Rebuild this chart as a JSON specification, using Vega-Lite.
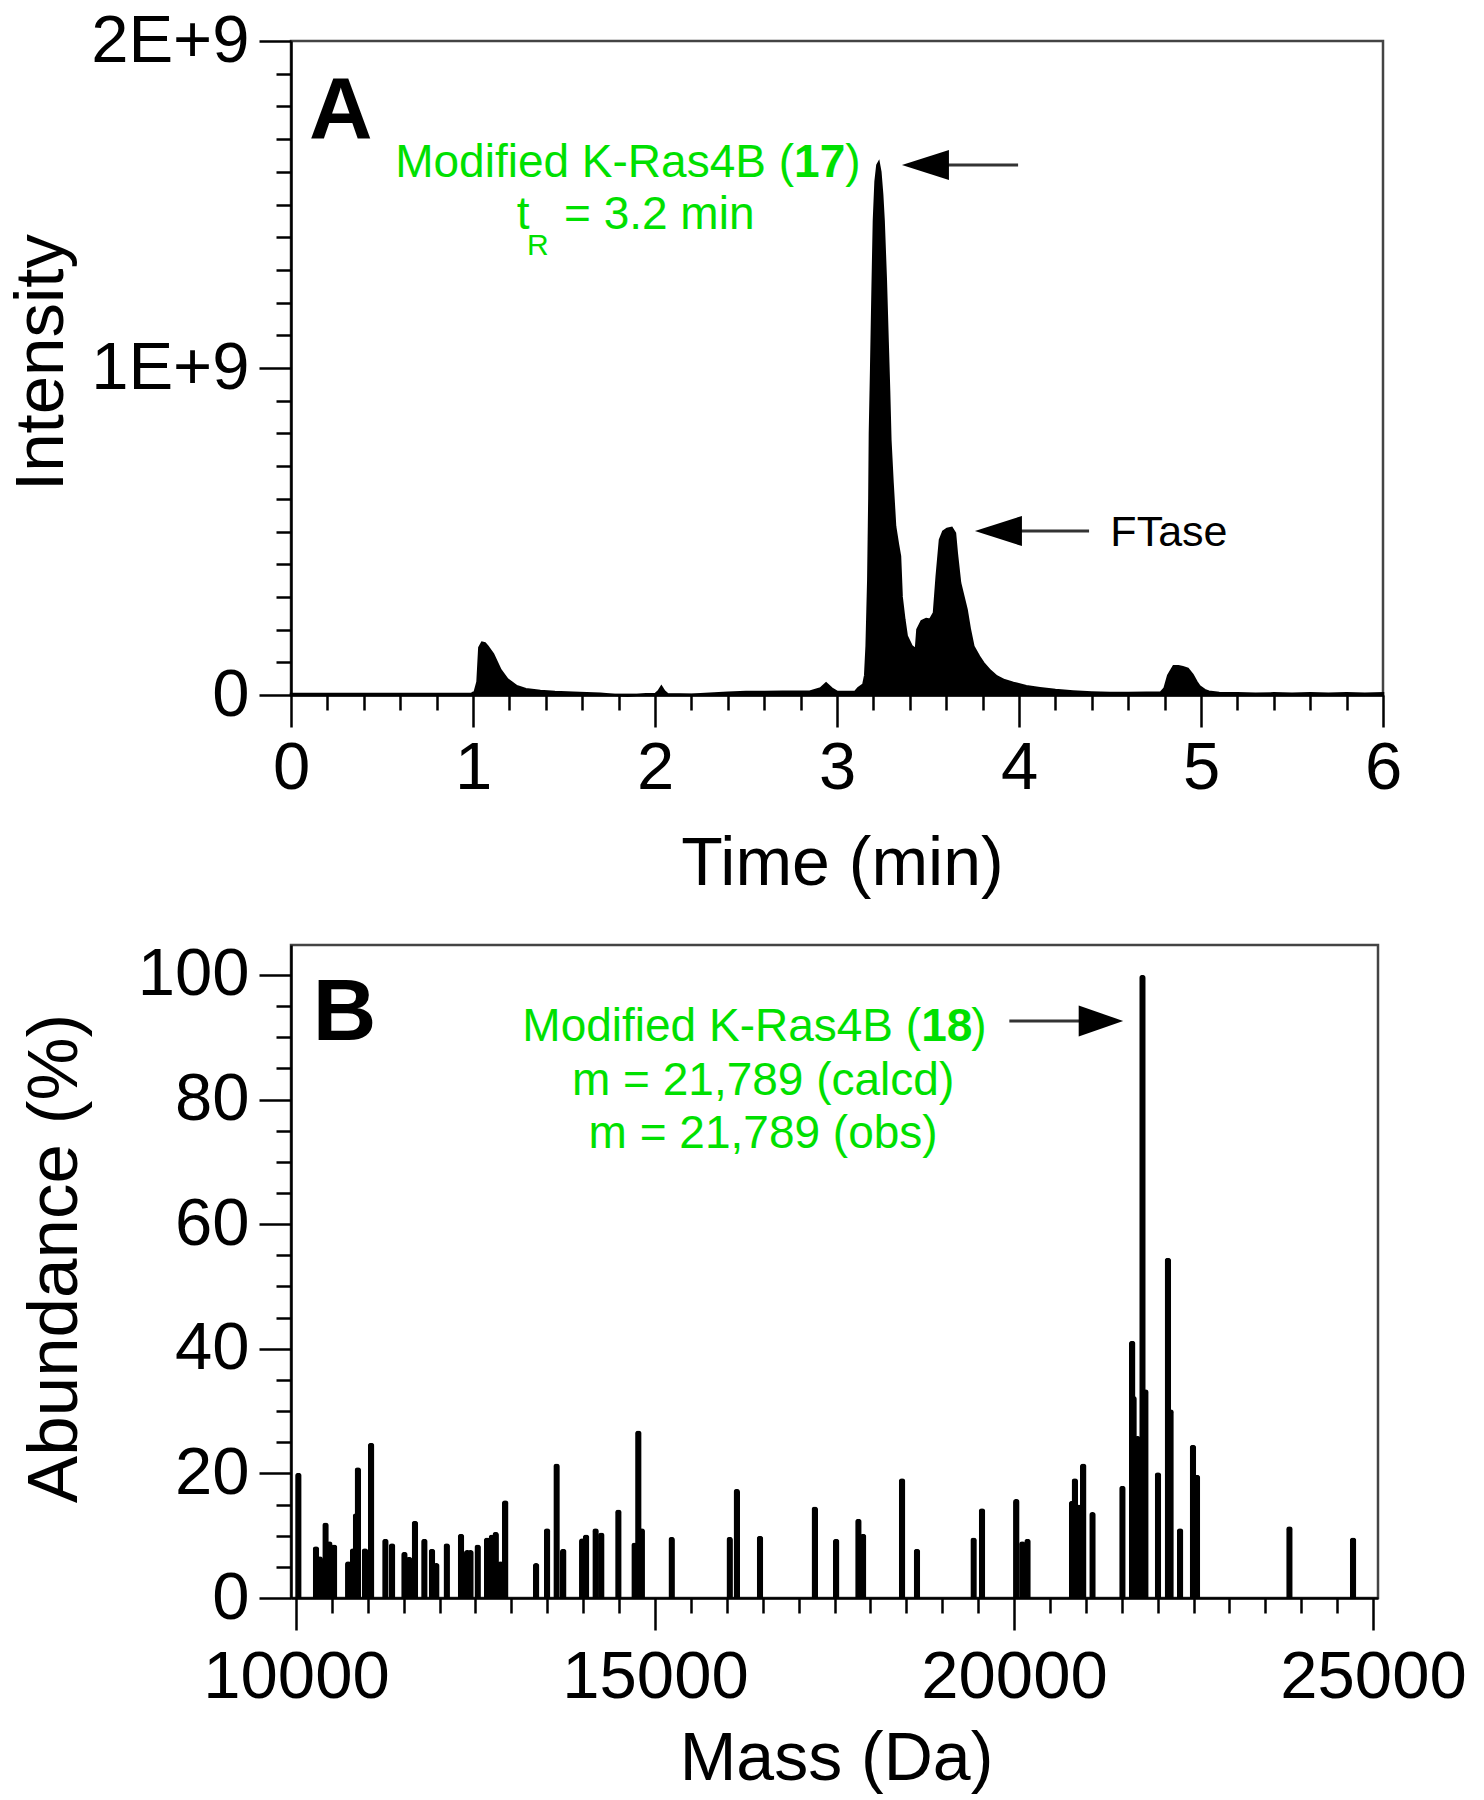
{
  "$schema": "https://vega.github.io/schema/vega-lite/v6.json",
  "background": "white",
  "padding": {"left": 5, "top": 5, "right": 5, "bottom": 5},
  "bounds": "flush",
  "spacing": 250,
  "config": {
    "font": "Liberation Sans",
    "view": {"stroke": "#444444", "strokeWidth": 2.5},
    "axis": {
      "grid": false,
      "domainColor": "black",
      "domainWidth": 2.5,
      "tickColor": "black",
      "tickWidth": 2.5,
      "tickCount": 200,
      "labelFont": "Liberation Sans",
      "labelFontSize": 67,
      "labelColor": "black",
      "labelFlush": false,
      "labelOverlap": false,
      "labelBound": false,
      "labelLimit": 600,
      "titleFont": "Liberation Sans",
      "titleFontWeight": "normal",
      "titleColor": "black",
      "titleBaseline": "alphabetic",
      "titleLimit": 1200
    }
  },
  "datasets": {
    "chrom": [
      {"t": 0.0, "I": 3e6}, {"t": 0.5, "I": 3e6}, {"t": 0.99, "I": 3e6}, {"t": 1.01, "I": 1e7},
      {"t": 1.025, "I": 4e7}, {"t": 1.035, "I": 1.45e8}, {"t": 1.05, "I": 1.6e8}, {"t": 1.065, "I": 1.58e8},
      {"t": 1.08, "I": 1.48e8}, {"t": 1.11, "I": 1.25e8}, {"t": 1.15, "I": 7.7e7}, {"t": 1.19, "I": 4.7e7},
      {"t": 1.24, "I": 2.7e7}, {"t": 1.29, "I": 1.8e7}, {"t": 1.37, "I": 1.2e7}, {"t": 1.45, "I": 9e6},
      {"t": 1.55, "I": 7e6}, {"t": 1.7, "I": 4e6}, {"t": 1.78, "I": 0}, {"t": 1.85, "I": -2e6},
      {"t": 1.95, "I": 2e6}, {"t": 2.0, "I": 2e6}, {"t": 2.02, "I": 1.2e7}, {"t": 2.035, "I": 2.5e7},
      {"t": 2.05, "I": 1.2e7}, {"t": 2.07, "I": 2e6}, {"t": 2.2, "I": 1e6}, {"t": 2.3, "I": 4e6},
      {"t": 2.4, "I": 7e6}, {"t": 2.5, "I": 9e6}, {"t": 2.6, "I": 9e6}, {"t": 2.7, "I": 1e7},
      {"t": 2.85, "I": 1e7}, {"t": 2.91, "I": 2e7}, {"t": 2.94, "I": 3.5e7}, {"t": 2.97, "I": 2e7},
      {"t": 3.0, "I": 1e7}, {"t": 3.05, "I": 9e6}, {"t": 3.1, "I": 1e7}, {"t": 3.117, "I": 2.1e7},
      {"t": 3.145, "I": 3.2e7}, {"t": 3.155, "I": 6e7}, {"t": 3.163, "I": 1.5e8}, {"t": 3.172, "I": 3.5e8},
      {"t": 3.178, "I": 6e8}, {"t": 3.181, "I": 8e8}, {"t": 3.188, "I": 1.0e9}, {"t": 3.196, "I": 1.25e9},
      {"t": 3.203, "I": 1.45e9}, {"t": 3.212, "I": 1.57e9}, {"t": 3.222, "I": 1.62e9}, {"t": 3.229, "I": 1.627e9},
      {"t": 3.238, "I": 1.6e9}, {"t": 3.248, "I": 1.53e9}, {"t": 3.256, "I": 1.45e9}, {"t": 3.268, "I": 1.27e9},
      {"t": 3.278, "I": 1.08e9}, {"t": 3.286, "I": 9.3e8}, {"t": 3.293, "I": 7.8e8}, {"t": 3.305, "I": 6.5e8},
      {"t": 3.319, "I": 5.16e8}, {"t": 3.335, "I": 4.6e8}, {"t": 3.346, "I": 4.25e8}, {"t": 3.355, "I": 3.0e8},
      {"t": 3.37, "I": 2.3e8}, {"t": 3.383, "I": 1.8e8}, {"t": 3.41, "I": 1.49e8}, {"t": 3.434, "I": 1.39e8},
      {"t": 3.442, "I": 2.0e8}, {"t": 3.465, "I": 2.26e8}, {"t": 3.49, "I": 2.32e8}, {"t": 3.511, "I": 2.3e8},
      {"t": 3.533, "I": 2.51e8}, {"t": 3.548, "I": 3.63e8}, {"t": 3.566, "I": 4.75e8}, {"t": 3.584, "I": 5.0e8},
      {"t": 3.605, "I": 5.08e8}, {"t": 3.63, "I": 5.11e8}, {"t": 3.648, "I": 4.95e8}, {"t": 3.658, "I": 4.34e8},
      {"t": 3.676, "I": 3.43e8}, {"t": 3.712, "I": 2.61e8}, {"t": 3.73, "I": 2.0e8}, {"t": 3.749, "I": 1.49e8},
      {"t": 3.78, "I": 1.18e8}, {"t": 3.804, "I": 9.8e7}, {"t": 3.84, "I": 7.5e7}, {"t": 3.877, "I": 5.7e7},
      {"t": 3.92, "I": 4.5e7}, {"t": 3.969, "I": 3.7e7}, {"t": 4.04, "I": 2.7e7}, {"t": 4.115, "I": 2.1e7},
      {"t": 4.2, "I": 1.5e7}, {"t": 4.297, "I": 1.1e7}, {"t": 4.4, "I": 8e6}, {"t": 4.5, "I": 6e6},
      {"t": 4.6, "I": 6e6}, {"t": 4.7, "I": 7e6}, {"t": 4.78, "I": 8e6}, {"t": 4.8, "I": 2e7},
      {"t": 4.82, "I": 6e7}, {"t": 4.85, "I": 8.8e7}, {"t": 4.876, "I": 8.8e7}, {"t": 4.9, "I": 8.5e7},
      {"t": 4.927, "I": 8e7}, {"t": 4.953, "I": 6.2e7}, {"t": 4.975, "I": 4e7}, {"t": 4.991, "I": 2.7e7},
      {"t": 5.02, "I": 1.5e7}, {"t": 5.043, "I": 1e7}, {"t": 5.1, "I": 6e6}, {"t": 5.2, "I": 5e6},
      {"t": 5.3, "I": 4e6}, {"t": 5.4, "I": 5e6}, {"t": 5.5, "I": 4e6}, {"t": 5.6, "I": 5e6},
      {"t": 5.7, "I": 4e6}, {"t": 5.8, "I": 5e6}, {"t": 5.9, "I": 4e6}, {"t": 6.0, "I": 5e6}
    ],
    "spectrum": [
      {"m": 10033, "a": 20.1}, {"m": 10278, "a": 8.3}, {"m": 10331, "a": 6.7}, {"m": 10411, "a": 12.1},
      {"m": 10464, "a": 9.1}, {"m": 10530, "a": 8.6}, {"m": 10728, "a": 5.9}, {"m": 10795, "a": 8.0},
      {"m": 10835, "a": 13.6}, {"m": 10861, "a": 21.0}, {"m": 10960, "a": 8.0}, {"m": 11046, "a": 24.9},
      {"m": 11245, "a": 9.5}, {"m": 11338, "a": 8.8}, {"m": 11510, "a": 7.4}, {"m": 11576, "a": 6.6},
      {"m": 11656, "a": 12.4}, {"m": 11788, "a": 9.5}, {"m": 11894, "a": 7.9}, {"m": 11954, "a": 5.6},
      {"m": 12099, "a": 8.8}, {"m": 12298, "a": 10.3}, {"m": 12384, "a": 7.7}, {"m": 12430, "a": 7.7},
      {"m": 12530, "a": 8.6}, {"m": 12662, "a": 9.7}, {"m": 12728, "a": 10.2}, {"m": 12781, "a": 10.6},
      {"m": 12848, "a": 5.9}, {"m": 12914, "a": 15.7}, {"m": 13344, "a": 5.6}, {"m": 13497, "a": 11.2},
      {"m": 13629, "a": 21.6}, {"m": 13722, "a": 7.9}, {"m": 13987, "a": 9.6}, {"m": 14040, "a": 10.2},
      {"m": 14172, "a": 11.2}, {"m": 14252, "a": 10.5}, {"m": 14490, "a": 14.2}, {"m": 14715, "a": 8.9},
      {"m": 14768, "a": 26.9}, {"m": 14815, "a": 11.2}, {"m": 15232, "a": 9.8}, {"m": 16040, "a": 9.8},
      {"m": 16139, "a": 17.5}, {"m": 16462, "a": 10.0}, {"m": 17225, "a": 14.7}, {"m": 17523, "a": 9.5},
      {"m": 17833, "a": 12.7}, {"m": 17898, "a": 10.3}, {"m": 18441, "a": 19.2}, {"m": 18648, "a": 7.9},
      {"m": 19437, "a": 9.7}, {"m": 19554, "a": 14.4}, {"m": 20032, "a": 15.9}, {"m": 20116, "a": 9.1},
      {"m": 20188, "a": 9.5}, {"m": 20809, "a": 15.6}, {"m": 20847, "a": 19.2}, {"m": 20899, "a": 15.0},
      {"m": 20964, "a": 21.6}, {"m": 21093, "a": 13.8}, {"m": 21510, "a": 18.0}, {"m": 21646, "a": 41.3},
      {"m": 21665, "a": 32.4}, {"m": 21720, "a": 26.0}, {"m": 21789, "a": 100}, {"m": 21830, "a": 33.5},
      {"m": 22005, "a": 20.2}, {"m": 22143, "a": 54.6}, {"m": 22180, "a": 30.3}, {"m": 22313, "a": 11.2},
      {"m": 22492, "a": 24.6}, {"m": 22548, "a": 19.8}, {"m": 23836, "a": 11.5}, {"m": 24722, "a": 9.7}
    ]
  },
  "vconcat": [
    {
      "width": 1092,
      "height": 654,
      "layer": [
        {
          "data": {"name": "chrom"},
          "mark": {"type": "area", "color": "black", "stroke": "black", "strokeWidth": 2.5, "interpolate": "linear"},
          "encoding": {
            "x": {
              "field": "t", "type": "quantitative",
              "scale": {"domain": [0, 6], "nice": false, "zero": false},
              "axis": {
                "title": "Time (min)",
                "titleFontSize": 68,
                "titleX": 551,
                "titleY": 189,
                "tickCount": 200,
                "values": [0,0.2,0.4,0.6,0.8,1,1.2,1.4,1.6,1.8,2,2.2,2.4,2.6,2.8,3,3.2,3.4,3.6,3.8,4,4.2,4.4,4.6,4.8,5,5.2,5.4,5.6,5.8,6],
                "tickSize": {"condition": {"test": "datum.value % 1 == 0", "value": 32}, "value": 15},
                "labelExpr": "datum.value % 1 == 0 ? format(datum.value, 'd') : ''",
                "labelPadding": 8
              }
            },
            "y": {
              "field": "I", "type": "quantitative",
              "scale": {"domain": [0, 2000000000], "nice": false, "zero": false},
              "axis": {
                "title": "Intensity",
                "titleFontSize": 69,
                "titleX": -229,
                "titleY": 321,
                "tickCount": 200,
                "values": [0,100000000,200000000,300000000,400000000,500000000,600000000,700000000,800000000,900000000,1000000000,1100000000,1200000000,1300000000,1400000000,1500000000,1600000000,1700000000,1800000000,1900000000,2000000000],
                "tickSize": {"condition": {"test": "datum.value % 1000000000 == 0", "value": 32}, "value": 15},
                "labelExpr": "datum.value == 0 ? '0' : (datum.value % 1000000000 == 0 ? format(datum.value / 1000000000, 'd') + 'E+9' : '')",
                "labelPadding": 10
              }
            }
          }
        },
        {
          "data": {"values": [{}]},
          "mark": {"type": "text", "text": "A", "font": "Liberation Sans", "fontWeight": "bold", "fontSize": 88, "align": "left", "baseline": "alphabetic", "color": "black"},
          "encoding": {"x": {"datum": 0.099, "type": "quantitative"}, "y": {"datum": 1703000000, "type": "quantitative"}}
        },
        {
          "data": {"values": [{}]},
          "mark": {"type": "text", "text": "Modified K-Ras4B (", "font": "Liberation Sans", "fontSize": 46, "align": "right", "baseline": "alphabetic", "color": "#00e000"},
          "encoding": {"x": {"datum": 2.764, "type": "quantitative"}, "y": {"datum": 1584000000, "type": "quantitative"}}
        },
        {
          "data": {"values": [{}]},
          "mark": {"type": "text", "text": "17", "font": "Liberation Sans", "fontWeight": "bold", "fontSize": 46, "align": "left", "baseline": "alphabetic", "color": "#00e000"},
          "encoding": {"x": {"datum": 2.764, "type": "quantitative"}, "y": {"datum": 1584000000, "type": "quantitative"}}
        },
        {
          "data": {"values": [{}]},
          "mark": {"type": "text", "text": ")", "font": "Liberation Sans", "fontSize": 46, "align": "left", "baseline": "alphabetic", "color": "#00e000"},
          "encoding": {"x": {"datum": 3.046, "type": "quantitative"}, "y": {"datum": 1584000000, "type": "quantitative"}}
        },
        {
          "data": {"values": [{}]},
          "mark": {"type": "text", "text": "t", "font": "Liberation Sans", "fontSize": 46, "align": "left", "baseline": "alphabetic", "color": "#00e000"},
          "encoding": {"x": {"datum": 1.24, "type": "quantitative"}, "y": {"datum": 1425000000, "type": "quantitative"}}
        },
        {
          "data": {"values": [{}]},
          "mark": {"type": "text", "text": "R", "font": "Liberation Sans", "fontSize": 30, "align": "left", "baseline": "alphabetic", "color": "#00e000"},
          "encoding": {"x": {"datum": 1.297, "type": "quantitative"}, "y": {"datum": 1346500000, "type": "quantitative"}}
        },
        {
          "data": {"values": [{}]},
          "mark": {"type": "text", "text": "= 3.2 min", "font": "Liberation Sans", "fontSize": 46, "align": "left", "baseline": "alphabetic", "color": "#00e000"},
          "encoding": {"x": {"datum": 1.5, "type": "quantitative"}, "y": {"datum": 1425000000, "type": "quantitative"}}
        },
        {
          "data": {"values": [{}]},
          "mark": {"type": "rule", "color": "#333333", "strokeWidth": 3},
          "encoding": {"x": {"datum": 3.6, "type": "quantitative"}, "x2": {"datum": 3.995}, "y": {"datum": 1621000000, "type": "quantitative"}}
        },
        {
          "data": {"values": [{}]},
          "mark": {"type": "point", "shape": "M-1,0L1,-0.64L1,0.64Z", "size": 2209, "filled": true, "color": "black", "opacity": 1, "strokeWidth": 0},
          "encoding": {"x": {"datum": 3.486, "type": "quantitative"}, "y": {"datum": 1621000000, "type": "quantitative"}}
        },
        {
          "data": {"values": [{}]},
          "mark": {"type": "rule", "color": "#333333", "strokeWidth": 3},
          "encoding": {"x": {"datum": 4.0, "type": "quantitative"}, "x2": {"datum": 4.385}, "y": {"datum": 501500000, "type": "quantitative"}}
        },
        {
          "data": {"values": [{}]},
          "mark": {"type": "point", "shape": "M-1,0L1,-0.64L1,0.64Z", "size": 2209, "filled": true, "color": "black", "opacity": 1, "strokeWidth": 0},
          "encoding": {"x": {"datum": 3.887, "type": "quantitative"}, "y": {"datum": 501500000, "type": "quantitative"}}
        },
        {
          "data": {"values": [{}]},
          "mark": {"type": "text", "text": "FTase", "font": "Liberation Sans", "fontSize": 43, "align": "left", "baseline": "alphabetic", "color": "black"},
          "encoding": {"x": {"datum": 4.502, "type": "quantitative"}, "y": {"datum": 455700000, "type": "quantitative"}}
        }
      ]
    },
    {
      "width": 1087,
      "height": 653,
      "layer": [
        {
          "data": {"name": "spectrum"},
          "mark": {"type": "bar", "width": 6.5, "color": "black", "cornerRadiusTopLeft": 3, "cornerRadiusTopRight": 3},
          "encoding": {
            "x": {
              "field": "m", "type": "quantitative",
              "scale": {"domain": [10000, 25000], "nice": false, "zero": false},
              "axis": {
                "title": "Mass (Da)",
                "titleFontSize": 68,
                "titleX": 545,
                "titleY": 181,
                "tickCount": 200,
                "values": [10000,10500,11000,11500,12000,12500,13000,13500,14000,14500,15000,15500,16000,16500,17000,17500,18000,18500,19000,19500,20000,20500,21000,21500,22000,22500,23000,23500,24000,24500,25000],
                "tickSize": {"condition": {"test": "datum.value % 5000 == 0", "value": 32}, "value": 15},
                "labelExpr": "datum.value % 5000 == 0 ? format(datum.value, 'd') : ''",
                "labelPadding": 14
              }
            },
            "y": {
              "field": "a", "type": "quantitative",
              "scale": {"domain": [0, 104.8], "nice": false, "zero": true},
              "axis": {
                "title": "Abundance (%)",
                "titleFontSize": 71,
                "titleX": -215,
                "titleY": 313,
                "tickCount": 200,
                "values": [0,5,10,15,20,25,30,35,40,45,50,55,60,65,70,75,80,85,90,95,100],
                "tickSize": {"condition": {"test": "datum.value % 20 == 0", "value": 32}, "value": 15},
                "labelExpr": "datum.value % 20 == 0 ? format(datum.value, 'd') : ''",
                "labelPadding": 10
              }
            }
          }
        },
        {
          "data": {"values": [{}]},
          "mark": {"type": "text", "text": "B", "font": "Liberation Sans", "fontWeight": "bold", "fontSize": 88, "align": "left", "baseline": "alphabetic", "color": "black"},
          "encoding": {"x": {"datum": 10235, "type": "quantitative"}, "y": {"datum": 89.6, "type": "quantitative"}}
        },
        {
          "data": {"values": [{}]},
          "mark": {"type": "text", "text": "Modified K-Ras4B (", "font": "Liberation Sans", "fontSize": 46, "align": "right", "baseline": "alphabetic", "color": "#00e000"},
          "encoding": {"x": {"datum": 18707, "type": "quantitative"}, "y": {"datum": 89.4, "type": "quantitative"}}
        },
        {
          "data": {"values": [{}]},
          "mark": {"type": "text", "text": "18", "font": "Liberation Sans", "fontWeight": "bold", "fontSize": 46, "align": "left", "baseline": "alphabetic", "color": "#00e000"},
          "encoding": {"x": {"datum": 18707, "type": "quantitative"}, "y": {"datum": 89.4, "type": "quantitative"}}
        },
        {
          "data": {"values": [{}]},
          "mark": {"type": "text", "text": ")", "font": "Liberation Sans", "fontSize": 46, "align": "left", "baseline": "alphabetic", "color": "#00e000"},
          "encoding": {"x": {"datum": 19405, "type": "quantitative"}, "y": {"datum": 89.4, "type": "quantitative"}}
        },
        {
          "data": {"values": [{}]},
          "mark": {"type": "text", "text": "m = 21,789 (calcd)", "font": "Liberation Sans", "fontSize": 46, "align": "center", "baseline": "alphabetic", "color": "#00e000"},
          "encoding": {"x": {"datum": 16506, "type": "quantitative"}, "y": {"datum": 80.8, "type": "quantitative"}}
        },
        {
          "data": {"values": [{}]},
          "mark": {"type": "text", "text": "m = 21,789 (obs)", "font": "Liberation Sans", "fontSize": 46, "align": "center", "baseline": "alphabetic", "color": "#00e000"},
          "encoding": {"x": {"datum": 16506, "type": "quantitative"}, "y": {"datum": 72.2, "type": "quantitative"}}
        },
        {
          "data": {"values": [{}]},
          "mark": {"type": "rule", "color": "#333333", "strokeWidth": 3},
          "encoding": {"x": {"datum": 19935, "type": "quantitative"}, "x2": {"datum": 20950}, "y": {"datum": 92.6, "type": "quantitative"}}
        },
        {
          "data": {"values": [{}]},
          "mark": {"type": "point", "shape": "M1,0L-1,-0.7L-1,0.7Z", "size": 1980, "filled": true, "color": "black", "opacity": 1, "strokeWidth": 0},
          "encoding": {"x": {"datum": 21211, "type": "quantitative"}, "y": {"datum": 92.6, "type": "quantitative"}}
        }
      ]
    }
  ]
}
